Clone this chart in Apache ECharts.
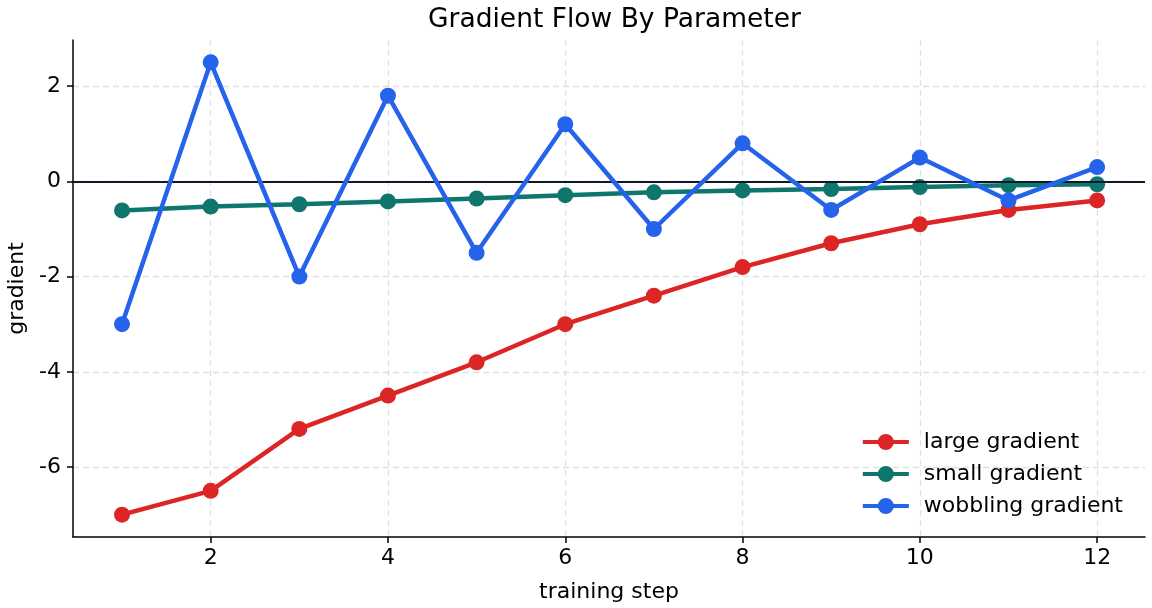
<!DOCTYPE html>
<html>
<head>
<meta charset="utf-8">
<script src="https://cdn.jsdelivr.net/npm/echarts@6/dist/echarts.min.js"></script>
<style>
  html, body { margin: 0; padding: 0; background: #fff; }
  #main { width: 1152px; height: 608px; }
</style>
</head>
<body>
<div id="main"></div>
<script>
// data
var steps = [1, 2, 3, 4, 5, 6, 7, 8, 9, 10, 11, 12]
var largeGrad = [-7, -6.5, -5.2, -4.5, -3.8, -3, -2.4, -1.8, -1.3, -0.9, -0.6, -0.4]
var smallGrad = [-0.61, -0.53, -0.48, -0.42, -0.36, -0.29, -0.23, -0.19, -0.16, -0.12, -0.08, -0.06]
var wobbleGrad = [-3, 2.5, -2, 1.8, -1.5, 1.2, -1, 0.8, -0.6, 0.5, -0.4, 0.3]
var xTicks = [2, 4, 6, 8, 10, 12]
var yTicks = [-6, -4, -2, 0, 2]
var seriesNames = ['large gradient', 'small gradient', 'wobbling gradient']
var colors = ['#dc2626', '#0f766e', '#2563eb']

function pairs (vals) {
  var out = []
  for (var i = 0; i < steps.length; i++) {
    out.push([steps[i], vals[i]])
  }
  return out
}

var font = 'DejaVu Sans'
var allData = [largeGrad, smallGrad, wobbleGrad]
var series = []
for (var s = 0; s < 3; s++) {
  var item = {
    name: seriesNames[s],
    type: 'line',
    data: pairs(allData[s]),
    symbol: 'circle',
    symbolSize: 16,
    lineStyle: { width: 4.5, color: colors[s] },
    itemStyle: { color: colors[s] },
    z: 3 + s
  }
  if (s === 0) {
    // horizontal zero line
    item.markLine = {
      silent: true,
      symbol: 'none',
      label: { show: false },
      lineStyle: { color: '#111827', width: 1.8, type: 'solid' },
      data: [{ yAxis: 0 }]
    }
  }
  series.push(item)
}

var legendIcon = 'path://M0,5.5 L46,5.5 L46,9.5 L0,9.5 Z M15,7.5 A8,8 0 1,1 31,7.5 A8,8 0 1,1 15,7.5 Z'
var gridLine = { show: true, lineStyle: { color: '#e0e0e0', type: [6, 4], width: 1.3 } }

var chart = echarts.init(document.getElementById('main'))
chart.setOption({
  animation: false,
  title: {
    text: 'Gradient Flow By Parameter',
    left: 423,
    top: 2,
    textStyle: { fontFamily: font, fontSize: 26.5, fontWeight: 'normal', color: '#000' }
  },
  legend: {
    orient: 'vertical',
    right: 24,
    bottom: 86,
    itemWidth: 46,
    itemHeight: 16,
    itemGap: 10,
    textStyle: { fontFamily: font, fontSize: 22, color: '#000', padding: [0, 0, 0, 10] },
    data: seriesNames.map(function (n) {
      return { name: n, icon: legendIcon }
    })
  },
  grid: { left: 73, right: 7, top: 40, bottom: 71, outerBoundsMode: 'none' },
  xAxis: {
    type: 'value',
    min: 0.447,
    max: 12.54,
    name: 'training step',
    nameLocation: 'middle',
    nameGap: 44,
    nameTextStyle: { fontFamily: font, fontSize: 22, color: '#000' },
    axisLine: { onZero: false, lineStyle: { color: '#000', width: 1.5 } },
    axisTick: { show: true, length: 6, customValues: xTicks, lineStyle: { color: '#000', width: 1.5 } },
    axisLabel: { fontFamily: font, fontSize: 22, color: '#000', margin: 10, customValues: xTicks },
    splitLine: Object.assign({ customValues: xTicks }, gridLine)
  },
  yAxis: {
    type: 'value',
    min: -7.47,
    max: 2.97,
    name: 'gradient',
    nameLocation: 'middle',
    nameGap: 45,
    nameTextStyle: { fontFamily: font, fontSize: 22, color: '#000' },
    axisLine: { show: true, onZero: false, lineStyle: { color: '#000', width: 1.5 } },
    axisTick: { show: true, length: 6, customValues: yTicks, lineStyle: { color: '#000', width: 1.5 } },
    axisLabel: { fontFamily: font, fontSize: 22, color: '#000', margin: 12, customValues: yTicks },
    splitLine: Object.assign({ customValues: yTicks }, gridLine)
  },
  series: series
})
</script>
</body>
</html>
